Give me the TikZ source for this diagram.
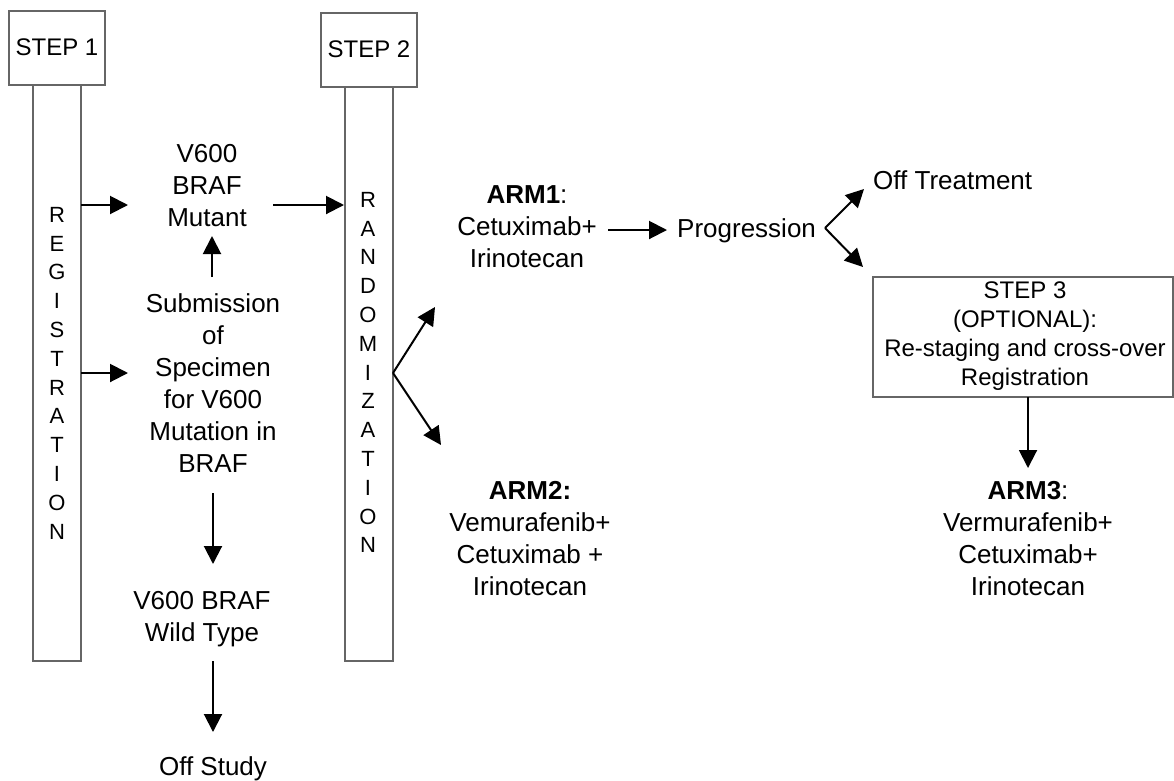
\documentclass[tikz,border=0pt]{standalone}
\usepackage{fontspec}
\setmainfont{Liberation Sans}
\usetikzlibrary{arrows.meta}

\begin{document}
\begin{tikzpicture}[x=1pt, y=-1pt]
\useasboundingbox (0,0) rectangle (1174,780);

\coordinate (S1_a) at (9, 11);
\coordinate (S1_b) at (105, 85);
\coordinate (S2_a) at (321, 13);
\coordinate (S2_b) at (417, 87);
\coordinate (S3_a) at (873, 277);
\coordinate (S3_b) at (1173, 397);
\coordinate (Reg_a) at (33, 85);
\coordinate (Reg_b) at (81, 661);
\coordinate (Rand_a) at (345, 87);
\coordinate (Rand_b) at (393, 661);

\coordinate (R1_1) at (81, 205);
\coordinate (R1_2) at (128, 205);
\coordinate (R2_1) at (81, 373);
\coordinate (R2_2) at (128, 373);
\coordinate (M_1) at (273, 205);
\coordinate (M_2) at (344, 205);
\coordinate (U_1) at (212, 277);
\coordinate (U_2) at (212, 236);
\coordinate (D1_1) at (213, 493);
\coordinate (D1_2) at (213, 564);
\coordinate (D2_1) at (213, 661);
\coordinate (D2_2) at (213, 732);
\coordinate (F1_0) at (393, 373);
\coordinate (F1_1) at (435, 307);
\coordinate (F1_2) at (441, 445);
\coordinate (A_1) at (608, 230);
\coordinate (A_2) at (667, 230);
\coordinate (F2_0) at (825, 228);
\coordinate (F2_1) at (864, 189);
\coordinate (F2_2) at (863, 267);
\coordinate (D3_1) at (1028, 397);
\coordinate (D3_2) at (1028, 468);


\tikzset{BoxStyle/.style = {draw=black!60, line width=1.1pt} }

\draw[BoxStyle] (S1_a) rectangle (S1_b);
\draw[BoxStyle] (S2_a) rectangle (S2_b);
\draw[BoxStyle] (Reg_a) rectangle (Reg_b);
\draw[BoxStyle] (Rand_a) rectangle (Rand_b);
\draw[BoxStyle] (S3_a) rectangle (S3_b);


\tikzset{ArrowStyle/.style = {line width=2pt, -{Triangle[length=18pt, width=18pt]}} }

\draw[ArrowStyle] (R1_1) -- (R1_2);
\draw[ArrowStyle] (R2_1) -- (R2_2);
\draw[ArrowStyle] (M_1) -- (M_2);
\draw[ArrowStyle] (U_1) -- (U_2);
\draw[ArrowStyle] (D1_1) -- (D1_2);
\draw[ArrowStyle] (D2_1) -- (D2_2);
\draw[ArrowStyle] (F1_0) -- (F1_1);
\draw[ArrowStyle] (F1_0) -- (F1_2);
\draw[ArrowStyle] (A_1) -- (A_2);
\draw[ArrowStyle] (F2_0) -- (F2_1);
\draw[ArrowStyle] (F2_0) -- (F2_2);
\draw[ArrowStyle] (D3_1) -- (D3_2);



\tikzset{TextStyle/.style = {
 align = center,
 anchor = north,
 inner sep = 0pt,
 font = \fontsize{26}{32}\selectfont} }
\tikzset{LetterStyle/.style = {
 align = center,
 anchor = north,
 inner sep = 0pt,
 font = \fontsize{22}{28.8}\selectfont} }
\tikzset{StepStyle/.style = {
 align = center,
 inner sep = 0pt,
 font = \fontsize{24}{29}\selectfont} }

\node[StepStyle] (Step1) at (57, 47) {STEP 1};
\node[StepStyle] (Step2) at (369, 49) {STEP 2};
\node[StepStyle, anchor=north] (Step3) at (1025, 282) {STEP 3\\(OPTIONAL):\\Re-staging and cross-over\\Registration};
\node[LetterStyle] (Reg) at (57, 207) {R\\E\\G\\I\\S\\T\\R\\A\\T\\I\\O\\N};
\node[LetterStyle] (Rand) at (368, 192) {R\\A\\N\\D\\O\\M\\I\\Z\\A\\T\\I\\O\\N};
\node[TextStyle] (Mutant) at (207, 144) {V600\\BRAF\\Mutant};
\node[TextStyle] (Specimen) at (213, 293) {Submission\\of\\Specimen\\for V600\\Mutation in\\BRAF};
\node[TextStyle] (WildType) at (202, 591) {V600 BRAF\\Wild Type};
\node[TextStyle] (OffStudy) at (213, 756) {Off Study};
\node[TextStyle] (Arm1) at (527, 185) {\textbf{ARM1}:\\Cetuximab+\\Irinotecan};
\node[TextStyle] (Arm2) at (530, 481) {\textbf{ARM2:}\\Vemurafenib+\\Cetuximab +\\Irinotecan};
\node[TextStyle] (Arm3) at (1028, 481) {\textbf{ARM3}:\\Vermurafenib+\\Cetuximab+\\Irinotecan};
\node[TextStyle, anchor=base west] (Prog) at (677, 237) {Progression};
\node[TextStyle, anchor=base west] (OffTreat) at (873, 189) {Off Treatment};

\end{tikzpicture}
\end{document}
